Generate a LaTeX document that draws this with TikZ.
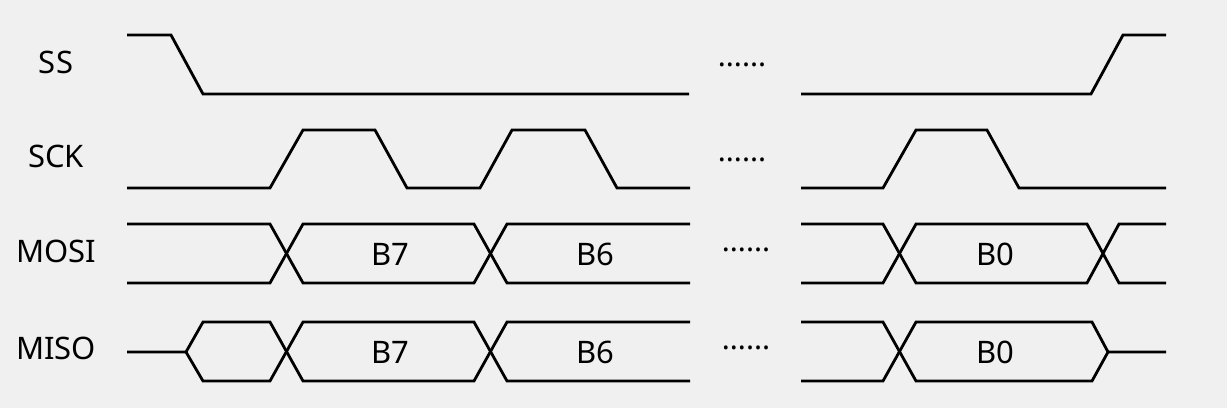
\documentclass[tikz,border=0pt]{standalone}
\usepackage{fontspec}
\setmainfont{Noto Sans}
\usepackage{tikz}
\usetikzlibrary{positioning}

\definecolor{bggray}{HTML}{F0F0F0}

\begin{document}
\begin{tikzpicture}[
    x=1pt, y=-1pt,
    wave/.style={line width=2.8pt, black},
    siglabel/.style={font=\fontsize{31}{31}\selectfont, inner sep=0pt},
    bitlabel/.style={font=\fontsize{31}{31}\selectfont, inner sep=0pt},
    gapdots/.style={font=\fontsize{30}{30}\selectfont, inner sep=0pt, anchor=base}
]

\fill[bggray] (0,0) rectangle (1227,408);
\useasboundingbox (0,0) rectangle (1227,408);

%=== Signal names ===
\node[siglabel] (ss)   at (56,62)  {SS};
\node[siglabel] (sck)  at (56,156) {SCK};
\node[siglabel] (mosi) at (56,251) {MOSI};
\node[siglabel] (miso) at (56,348) {MISO};

%=== SS: falls at start, rises at end ===
\draw[wave] (127,35) -- (171,35) -- (203,94) -- (689,94);
\draw[wave] (801,94) -- (1091,94) -- (1123,35) -- (1166,35);

%=== SCK: one pulse per bit ===
\draw[wave] (127,188) -- (270,188) -- (303,130) -- (375,130) -- (407,188)
    -- (480,188) -- (512,130) -- (585,130) -- (617,188) -- (690,188);
\draw[wave] (801,188) -- (883,188) -- (916,130) -- (987,130) -- (1019,188)
    -- (1166,188);

%=== MOSI: bus, B7 B6 ... B0 ===
\draw[wave] (127,224) -- (270,224) -- (303,283) -- (474,283) -- (507,224) -- (690,224);
\draw[wave] (127,283) -- (270,283) -- (303,224) -- (474,224) -- (507,283) -- (690,283);
\draw[wave] (801,224) -- (883,224) -- (916,283) -- (1087,283) -- (1119,224) -- (1166,224);
\draw[wave] (801,283) -- (883,283) -- (916,224) -- (1087,224) -- (1119,283) -- (1166,283);

\node[bitlabel] (mosib7) at (390,254) {B7};
\node[bitlabel] (mosib6) at (595,254) {B6};
\node[bitlabel] (mosib0) at (995,254) {B0};

%=== MISO: high-Z, then B7 B6 ... B0, high-Z ===
\draw[wave] (127,352) -- (186,352) -- (203,322) -- (270,322) -- (303,381)
    -- (474,381) -- (507,322) -- (690,322);
\draw[wave] (186,352) -- (203,381) -- (270,381) -- (303,322)
    -- (474,322) -- (507,381) -- (690,381);
\draw[wave] (801,322) -- (883,322) -- (916,381) -- (1092,381) -- (1108,352) -- (1166,352);
\draw[wave] (801,381) -- (883,381) -- (916,322) -- (1092,322) -- (1108,352);

\node[bitlabel] (misob7) at (390,352) {B7};
\node[bitlabel] (misob6) at (595,352) {B6};
\node[bitlabel] (misob0) at (995,352) {B0};

%=== Gap dots ===
\node[gapdots] (gapss)   at (742,66)    {......};
\node[gapdots] (gapsck)  at (742,161)   {......};
\node[gapdots] (gapmosi) at (746,251.5) {......};
\node[gapdots] (gapmiso) at (746,349.5) {......};

\end{tikzpicture}
\end{document}
